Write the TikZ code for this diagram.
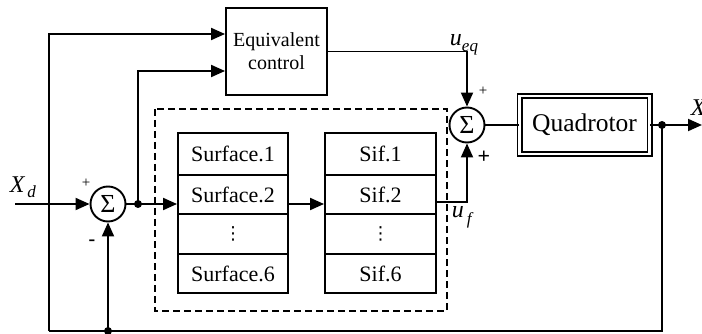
\documentclass[tikz,border=0pt]{standalone}
\usepackage{fontspec}
\setmainfont{Liberation Serif}
\newfontfamily\dvfont{DejaVu Sans}
\usetikzlibrary{arrows.meta}
\begin{document}
\begin{tikzpicture}[x=1pt,y=-1pt,
  line width=1.9pt,
  arr/.style={-{Triangle[length=14pt,width=12pt]}},
  blk/.style={draw,rectangle,inner sep=0pt,line width=1.9pt},
  cell/.style={draw,rectangle,inner sep=0pt,minimum width=110pt,line width=1.9pt,font=\fontsize{22}{24}\selectfont},
  sumc/.style={draw,circle,minimum size=35pt,inner sep=0pt,line width=1.9pt,font=\fontsize{26}{28}\selectfont},
  jdot/.style={fill,circle,minimum size=8pt,inner sep=0pt},
  lbl/.style={inner sep=0pt,font=\fontsize{24}{26}\selectfont}
]
\useasboundingbox (0,0) rectangle (702,334);

% blocks
\node[blk,minimum width=101pt,minimum height=87pt,align=center,font=\fontsize{20}{23}\selectfont] (eq) at (276.5,51.5) {Equivalent\\control};
\node[sumc] (sum1) at (108,204) {Σ};
\node[sumc] (sum2) at (467,125) {Σ};
\node[blk,minimum width=130pt,minimum height=58pt,double,double distance=2.4pt,line width=1.8pt,font=\fontsize{25.5}{27}\selectfont] (quad) at (584.5,125) {Quadrotor};

% dashed box
\draw[dash pattern=on 7pt off 4pt,line width=1.8pt] (155,109) rectangle (447,311);

% surface table
\node[cell,minimum height=42pt] (s1) at (233,154) {Surface.1};
\node[cell,minimum height=39pt] (s2) at (233,194.5) {Surface.2};
\node[cell,minimum height=40pt] (s3) at (233,234) {\dvfont\fontsize{18}{22}\selectfont ⋮};
\node[cell,minimum height=39pt] (s4) at (233,273.5) {Surface.6};
% sif table
\node[cell,minimum width=111pt,minimum height=42pt] (f1) at (380.5,154) {Sif.1};
\node[cell,minimum width=111pt,minimum height=39pt] (f2) at (380.5,194.5) {Sif.2};
\node[cell,minimum width=111pt,minimum height=40pt] (f3) at (380.5,234) {\dvfont\fontsize{18}{22}\selectfont ⋮};
\node[cell,minimum width=111pt,minimum height=39pt] (f4) at (380.5,273.5) {Sif.6};

% coordinates
\coordinate (xin) at (15,204);
\coordinate (fbL) at (49,331);
\coordinate (fbR) at (662,331);
\coordinate (a1) at (49,34);
\coordinate (xout) at (702,125);
\coordinate (uf) at (467,202);
\node[jdot] (d1) at (138,204) {};
\node[jdot] (dout) at (662,125) {};
\node[jdot] (dfb) at (108,331) {};
\coordinate (a2) at (138,71);

% connectors
\draw[arr] (xin) -- (sum1.west);
\draw (sum1.east) -- (d1.center);
\draw[arr] (d1.center) -- (s2.west |- d1);
\draw[arr] (s2.east |- d1) -- (f2.west |- d1);
\draw[arr] (d1.center) -- (a2) -- (a2 -| eq.west);
\draw[arr] (fbL) -- (a1) -- (a1 -| eq.west);
\draw[arr] (eq.east) -| (sum2.north);
\draw[arr] (f2.east |- uf) -- (uf) -- (sum2.south);
\draw (sum2.east) -- (quad.west);
\draw (quad.east) -- (dout.center);
\draw[arr] (dout.center) -- (xout);
\draw (dout.center) -- (fbR) -- (fbL);
\draw[arr] (dfb.center) -- (sum1.south);

% labels
\node[lbl,anchor=base west] (xd) at (9,193) {\itshape X\raisebox{-5pt}{\fontsize{17}{17}\selectfont\,d}};
\node[inner sep=0pt,font=\fontsize{15}{15}\selectfont] (p1) at (86,183) {+};
\node[inner sep=0pt,font=\fontsize{20}{20}\selectfont\bfseries] (m1) at (92,243) {-};
\node[inner sep=0pt,font=\fontsize{15}{15}\selectfont] (p2) at (483,91) {+};
\node[inner sep=0pt,font=\fontsize{22}{22}\selectfont\bfseries] (p3) at (484,157) {+};
\node[lbl,anchor=base west] (ueq) at (449,46) {\itshape u\raisebox{-6pt}{\fontsize{17}{17}\selectfont eq}};
\node[lbl,anchor=base west] (ufl) at (451,218) {\itshape u\raisebox{-7pt}{\fontsize{17}{17}\selectfont\,f}};
\node[lbl,anchor=base west] (xo) at (690,116) {\itshape X};
\end{tikzpicture}
\end{document}
